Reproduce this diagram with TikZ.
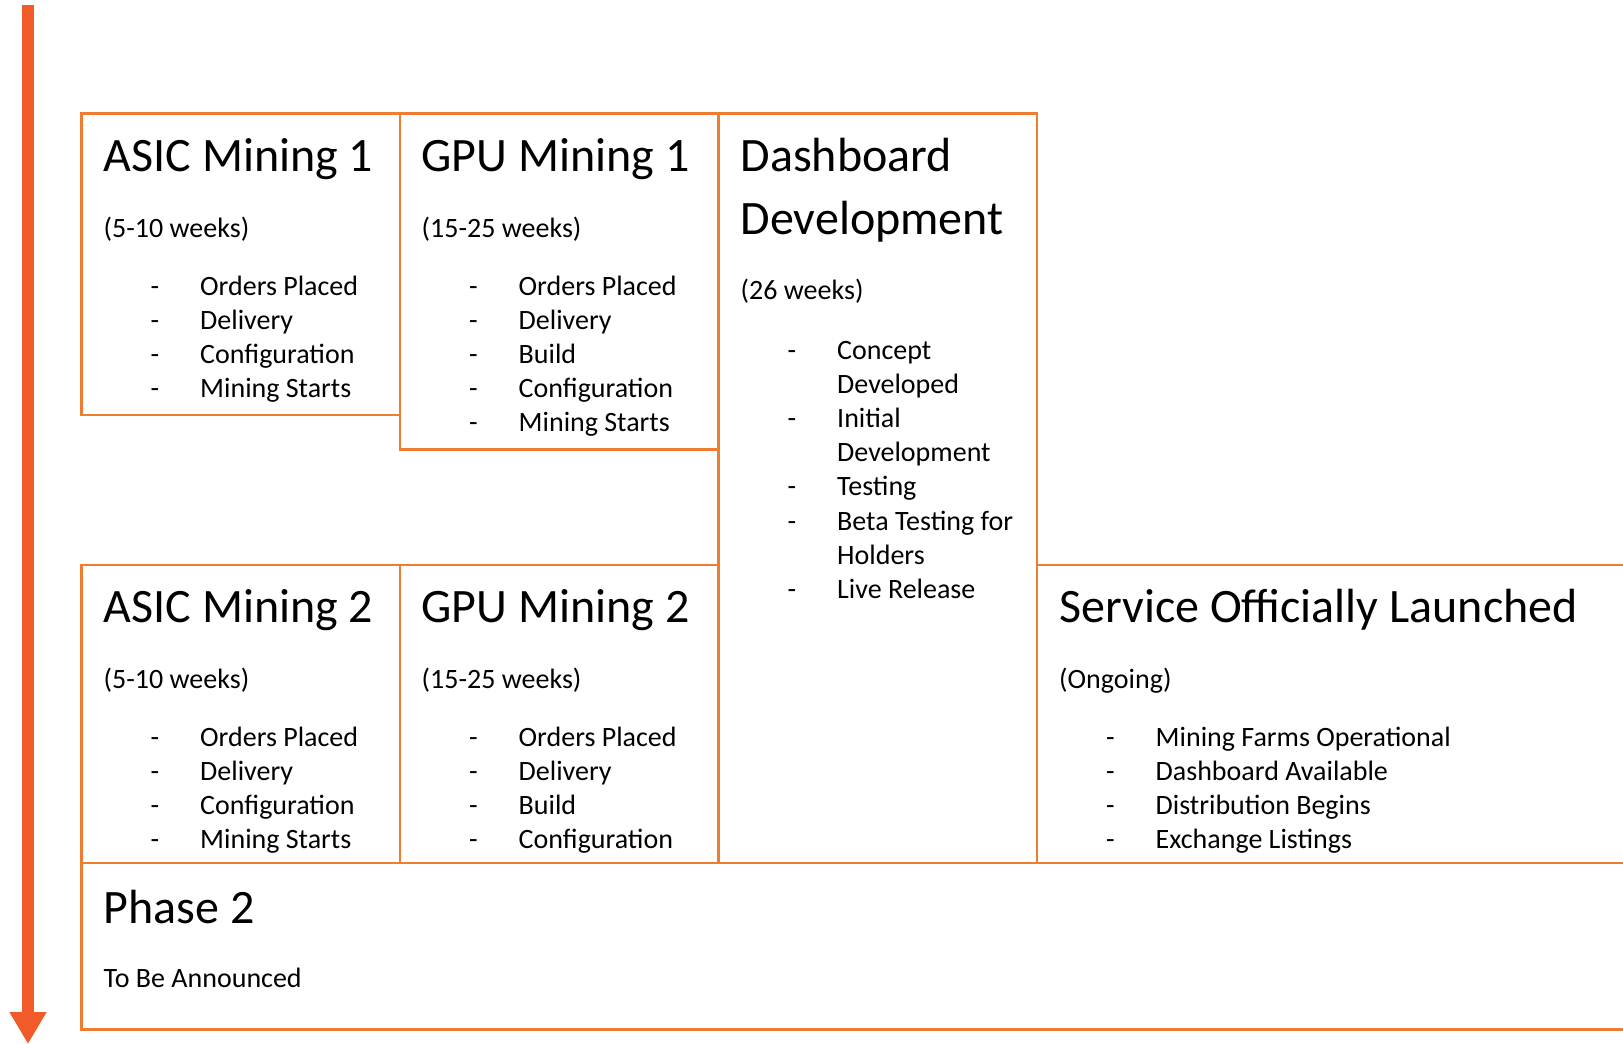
\documentclass[tikz,border=0pt]{standalone}
\usepackage{fontspec}
\setmainfont{Carlito}
\usetikzlibrary{arrows.meta}
\definecolor{boxorange}{HTML}{ED7D31}
\definecolor{arroworange}{HTML}{F15A29}
\tikzset{
  titletext/.style={anchor=base west, inner sep=0pt, font=\fontsize{48}{57}\selectfont},
  bodytext/.style={anchor=base west, inner sep=0pt, font=\fontsize{28}{34}\selectfont},
  framebox/.style={draw=boxorange, line width=2.4pt},
  timearrow/.style={draw=arroworange, line width=12pt, -{Triangle[width=35pt,length=32pt]}},
}
% list item: name, box left, baseline, text
\newcommand\rmitem[4]{%
  \node[bodytext] (#1-dash) at ({#2+69},#3) {-};
  \node[bodytext] (#1) at ({#2+118.5},#3) {#4};}
% continuation line of a list item
\newcommand\rmcont[4]{%
  \node[bodytext] (#1) at ({#2+118.5},#3) {#4};}
\begin{document}
\begin{tikzpicture}[x=1pt,y=-1pt]
\useasboundingbox (0,0) rectangle (1623,1044);

% timeline arrow
\coordinate (atop) at (28,5);
\coordinate (abot) at (28,1044);
\draw[timearrow] (atop) -- (abot);

% frames
\draw[framebox] (81.5,113.5) rectangle (400,415);
\draw[framebox] (400,113.5) rectangle (718.5,449.5);
\draw[framebox] (718.5,113.5) rectangle (1037,863);
\draw[framebox] (81.5,565) rectangle (400,863);
\draw[framebox] (400,565) rectangle (718.5,863);
\draw[framebox] (1640,565) -- (1037,565) -- (1037,863) -- (1640,863);
\draw[framebox] (1640,863) -- (81.5,863) -- (81.5,1029.5) -- (1640,1029.5);

% ASIC Mining 1
\node[titletext] (a1t) at (103.5,171) {ASIC Mining 1};
\node[bodytext] (a1s) at (103.5,237.5) {(5-10 weeks)};
\rmitem{a1i1}{81.5}{295}{Orders Placed}
\rmitem{a1i2}{81.5}{329}{Delivery}
\rmitem{a1i3}{81.5}{363}{Configuration}
\rmitem{a1i4}{81.5}{397.5}{Mining Starts}

% GPU Mining 1
\node[titletext] (g1t) at (421.5,171) {GPU Mining 1};
\node[bodytext] (g1s) at (421.5,237.5) {(15-25 weeks)};
\rmitem{g1i1}{400}{295}{Orders Placed}
\rmitem{g1i2}{400}{329}{Delivery}
\rmitem{g1i3}{400}{363}{Build}
\rmitem{g1i4}{400}{397.5}{Configuration}
\rmitem{g1i5}{400}{431.5}{Mining Starts}

% Dashboard Development
\node[titletext] (dt1) at (740.5,171) {Dashboard};
\node[titletext] (dt2) at (740.5,234) {Development};
\node[bodytext] (ds) at (740.5,299.5) {(26 weeks)};
\rmitem{di1}{718.5}{359}{Concept}
\rmcont{di1b}{718.5}{393.2}{Developed}
\rmitem{di2}{718.5}{427.4}{Initial}
\rmcont{di2b}{718.5}{461.6}{Development}
\rmitem{di3}{718.5}{495.8}{Testing}
\rmitem{di4}{718.5}{530}{Beta Testing for}
\rmcont{di4b}{718.5}{564.2}{Holders}
\rmitem{di5}{718.5}{598.4}{Live Release}

% ASIC Mining 2
\node[titletext] (a2t) at (103.5,622) {ASIC Mining 2};
\node[bodytext] (a2s) at (103.5,688.5) {(5-10 weeks)};
\rmitem{a2i1}{81.5}{746}{Orders Placed}
\rmitem{a2i2}{81.5}{780}{Delivery}
\rmitem{a2i3}{81.5}{814}{Configuration}
\rmitem{a2i4}{81.5}{848.5}{Mining Starts}

% GPU Mining 2
\node[titletext] (g2t) at (421.5,622) {GPU Mining 2};
\node[bodytext] (g2s) at (421.5,688.5) {(15-25 weeks)};
\rmitem{g2i1}{400}{746}{Orders Placed}
\rmitem{g2i2}{400}{780}{Delivery}
\rmitem{g2i3}{400}{814}{Build}
\rmitem{g2i4}{400}{848.5}{Configuration}

% Service Officially Launched
\node[titletext] (st) at (1059,622) {Service Officially Launched};
\node[bodytext] (ss) at (1059,688.5) {(Ongoing)};
\rmitem{si1}{1037}{746}{Mining Farms Operational}
\rmitem{si2}{1037}{780}{Dashboard Available}
\rmitem{si3}{1037}{814}{Distribution Begins}
\rmitem{si4}{1037}{848.5}{Exchange Listings}

% Phase 2
\node[titletext] (pt) at (103.5,923) {Phase 2};
\node[bodytext] (ps) at (103.5,987) {To Be Announced};
\end{tikzpicture}
\end{document}
